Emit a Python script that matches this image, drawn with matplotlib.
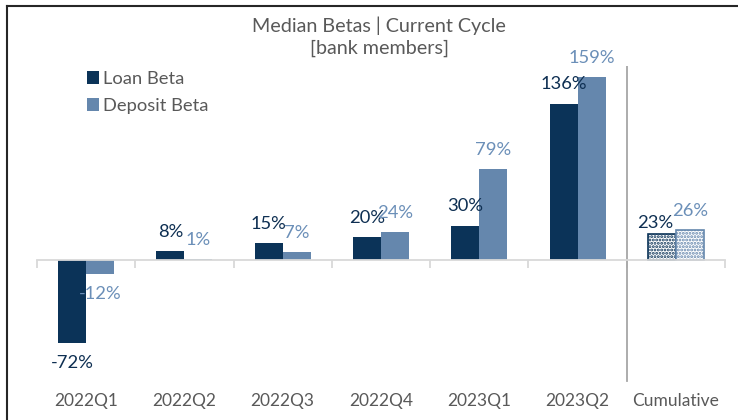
import matplotlib
matplotlib.use("Agg")
import matplotlib.pyplot as plt
import numpy as np
from matplotlib.lines import Line2D
from matplotlib.patches import Patch

categories = ["2022Q1", "2022Q2", "2022Q3", "2022Q4", "2023Q1", "2023Q2", "Cumulative"]
loan_beta = [-72, 8, 15, 20, 30, 136, 23]
deposit_beta = [-12, 1, 7, 24, 79, 159, 26]
title_text = "Median Betas | Current Cycle\n[bank members]"

LOAN = "#0b3358"
DEP = "#6587ad"
LOAN_TXT = "#0e2f52"
DEP_TXT = "#6b8fb8"
GRAY_TXT = "#595959"

plt.rcParams['font.family'] = ['Lato', 'DejaVu Sans']
plt.rcParams['hatch.linewidth'] = 1.4

fig = plt.figure(figsize=(7.38, 4.2), dpi=100)
ax = fig.add_axes([37/738, 35/420, 688/738, 319/420])

x = np.arange(len(categories))
w = 0.285
n_reg = len(categories) - 1
fs = 12.5
fs_lab = 13.2

for i in range(len(categories)):
    if i < n_reg:
        ax.bar(x[i] - w/2, loan_beta[i], w, color=LOAN, linewidth=0)
        ax.bar(x[i] + w/2, deposit_beta[i], w, color=DEP, linewidth=0)
    else:
        ax.bar(x[i] - w/2, loan_beta[i], w, facecolor="white", edgecolor=LOAN,
               hatch=".....", linewidth=1.2)
        ax.bar(x[i] + w/2, deposit_beta[i], w, facecolor="white", edgecolor=DEP,
               hatch=".....", linewidth=1.2)

def label(xp, v, col, dx=0, dy=0):
    if v >= 0:
        ax.annotate(f"{v}%", (xp, v), xytext=(dx, 8 + dy), textcoords="offset points",
                    ha="center", va="bottom", color=col, fontsize=fs_lab)
    else:
        ax.annotate(f"{v}%", (xp, v), xytext=(dx, -9 + dy), textcoords="offset points",
                    ha="center", va="top", color=col, fontsize=fs_lab)

for i in range(len(categories)):
    if i == n_reg:
        label(x[i] - w/2, loan_beta[i], LOAN_TXT, dx=-5, dy=-6)
    else:
        label(x[i] - w/2, loan_beta[i], LOAN_TXT)
    label(x[i] + w/2, deposit_beta[i], DEP_TXT)

ax.set_xlim(-0.5, len(categories) - 0.5)
ax.set_ylim(-108.7, 168.7)
for s in ["top", "right", "left"]:
    ax.spines[s].set_visible(False)
ax.spines["bottom"].set_position(("data", 0))
ax.spines["bottom"].set_color("#d9d9d9")
ax.spines["bottom"].set_linewidth(1.3)
ax.set_yticks([])
ax.set_xticks([])
ax.set_xticks(np.arange(-0.5, len(categories), 1.0), minor=True)
ax.tick_params(axis="x", which="minor", direction="out", length=6, color="#d9d9d9", width=1.3)
ax.patch.set_visible(False)

for i, c in enumerate(categories):
    ax.text(x[i], -0.05, c, transform=ax.get_xaxis_transform(), ha="center", va="center",
            fontsize=fs, color=GRAY_TXT)

ax.axvline(n_reg - 0.5, ymin=0.0125, ymax=1, color="#a6a6a6", linewidth=1.3)

fig.text(379/738, 1 - 37/420, title_text, ha="center", va="center", fontsize=14.2,
         color=GRAY_TXT, linespacing=1.3)

handles = [Patch(facecolor=LOAN, edgecolor="none"), Patch(facecolor=DEP, edgecolor="none")]
fig.legend(handles, ["Loan Beta", "Deposit Beta"], loc="upper left",
           bbox_to_anchor=(83/738, 1 - 67/420), frameon=False, fontsize=13.2,
           handlelength=0.68, handleheight=0.68, handletextpad=0.2, labelspacing=0.62,
           labelcolor=GRAY_TXT, borderaxespad=0, borderpad=0.2)

fig.add_artist(Line2D([7/738, 1], [1 - 6/420, 1 - 6/420], transform=fig.transFigure,
                      color="#262626", linewidth=1.5))
fig.add_artist(Line2D([7/738, 7/738], [0, 1 - 6/420], transform=fig.transFigure,
                      color="#262626", linewidth=1.5))

fig.savefig("out.png", dpi=100)
